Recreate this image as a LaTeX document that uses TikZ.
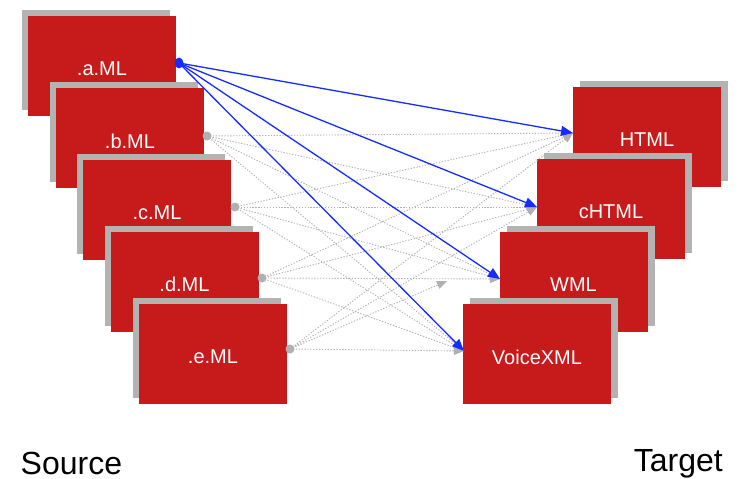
\documentclass[tikz,border=0pt]{standalone}
\usepackage{fontspec}
\setmainfont{Liberation Sans}
\usetikzlibrary{arrows.meta,shadows}
\definecolor{boxred}{RGB}{199,26,26}
\definecolor{shadegray}{RGB}{179,179,179}
\definecolor{linkblue}{RGB}{22,44,255}
\definecolor{dotgray}{RGB}{176,176,176}
\tikzset{
  box/.style={rectangle, minimum width=148pt, minimum height=100pt, inner sep=0pt,
    fill=boxred, draw=none},
  lshadow/.style={general shadow={shadow xshift=-6pt, shadow yshift=6pt, fill=shadegray}},
  rshadow/.style={general shadow={shadow xshift=7pt, shadow yshift=6pt, fill=shadegray}},
  lbl/.style={text=white, font=\fontsize{20}{24}\selectfont, inner sep=0pt},
  bluelink/.style={draw=linkblue, line width=1.3pt, -{Triangle[length=12pt,width=10pt]}},
  graylink/.style={draw=dotgray, line width=0.9pt, dash pattern=on 1.3pt off 1.6pt,
    -{Triangle[length=10pt,width=8pt]}},
  caption/.style={font=\fontsize{32}{38}\selectfont, inner sep=0pt},
}
\begin{document}
\begin{tikzpicture}[x=1pt,y=-1pt]
\useasboundingbox (0,0) rectangle (742,479);
% left source boxes
\node[box,lshadow] (a) at (102,66) {};
\node[lbl] (la) at (102,69) {.a.ML};
\node[box,lshadow] (b) at (130,138) {};
\node[lbl] (lb) at (130,141) {.b.ML};
\node[box,lshadow] (c) at (157,210) {};
\node[lbl] (lc) at (157,213) {.c.ML};
\node[box,lshadow] (d) at (184.5,281.5) {};
\node[lbl] (ld) at (184.5,284.5) {.d.ML};
\node[box,lshadow] (e) at (213,354) {};
\node[lbl] (le) at (213,357) {.e.ML};
% right target boxes
\node[box,rshadow] (html) at (647,137) {};
\node[lbl] (lhtml) at (647,140) {HTML};
\node[box,rshadow] (chtml) at (611,209) {};
\node[lbl] (lchtml) at (611,212) {cHTML};
\node[box,rshadow] (wml) at (573.5,282) {};
\node[lbl] (lwml) at (573.5,285) {WML};
\node[box,rshadow] (vxml) at (537,354) {};
\node[lbl] (lvxml) at (537,357) {VoiceXML};
% connection points
\coordinate (sa) at (179,63);
\coordinate (sb) at (207,136);
\coordinate (sc) at (235,207);
\coordinate (sd) at (262,278);
\coordinate (se) at (290,349);
\coordinate (t1) at (573,133);
\coordinate (t2) at (537,207);
\coordinate (t3) at (500,279);
\coordinate (t4) at (464,351);
\coordinate (t3e) at (447,281);
% gray dotted links
\foreach \s in {sb,sc,sd}{
  \foreach \t in {t1,t2,t3,t4}{
    \draw[graylink] (\s) -- (\t);
  }
}
\draw[graylink] (se) -- (t1);
\draw[graylink] (se) -- (t2);
\draw[graylink] (se) -- (t3e);
\draw[graylink] (se) -- (t4);
\foreach \s in {sb,sc,sd,se}{
  \fill[dotgray] (\s) circle (4.5pt);
}
% blue links
\foreach \t in {t1,t2,t3,t4}{
  \draw[bluelink] (sa) -- (\t);
}
\fill[linkblue] (sa) ellipse (4.5pt and 5.5pt);
% captions
\node[caption, anchor=base west] (src) at (20.5,474.5) {Source};
\node[caption, anchor=base east] (tgt) at (723,471) {Target};
\end{tikzpicture}
\end{document}
